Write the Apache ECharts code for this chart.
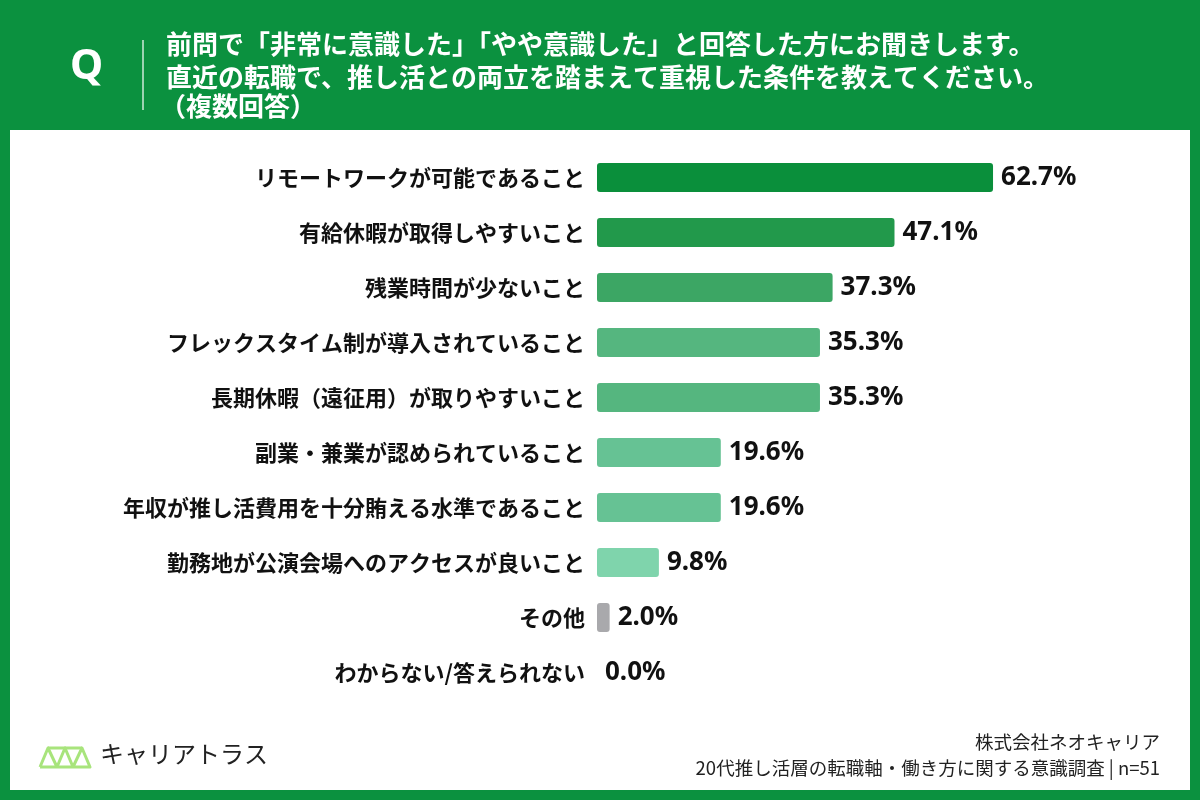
<!DOCTYPE html>
<html>
<head>
<meta charset="utf-8">
<script src="https://cdn.jsdelivr.net/npm/echarts@6/dist/echarts.min.js"></script>
<style>
  html, body { margin: 0; padding: 0; }
  #chart { width: 1200px; height: 800px; }
</style>
</head>
<body>
<div id="chart"></div>
<script>
// 項目（上から順）
const categories = [
    'リモートワークが可能であること',
    '有給休暇が取得しやすいこと',
    '残業時間が少ないこと',
    'フレックスタイム制が導入されていること',
    '長期休暇（遠征用）が取りやすいこと',
    '副業・兼業が認められていること',
    '年収が推し活費用を十分賄える水準であること',
    '勤務地が公演会場へのアクセスが良いこと',
    'その他',
    'わからない/答えられない'
]
const values = [62.7, 47.1, 37.3, 35.3, 35.3, 19.6, 19.6, 9.8, 2.0, 0.0]
const barColors = ['#0a8f3b', '#22994b', '#3ca664', '#55b67f', '#55b67f', '#66c294', '#66c294', '#7fd4ac', '#a9a9ac', '#a9a9ac']

const titleLines = [
    '前問で「非常に意識した」「やや意識した」と回答した方にお聞きします。',
    '直近の転職で、推し活との両立を踏まえて重視した条件を教えてください。',
    '（複数回答）'
]
const sourceLines = ['株式会社ネオキャリア', '20代推し活層の転職軸・働き方に関する意識調査 | n=51']

const FONT = '"Noto Sans CJK JP", "Noto Sans", sans-serif'
const GREEN = '#0b913f'

let chart = echarts.init(document.getElementById('chart'))

let seriesData = values.map((v, i) => {
    return {
        value: v,
        itemStyle: { color: barColors[i] }
    }
})

let option = {
    backgroundColor: GREEN,
    animation: false,
    grid: {
        left: 597,
        top: 150,
        width: 505.3,
        height: 550
    },
    xAxis: {
        type: 'value',
        min: 0,
        max: 80,
        show: false
    },
    yAxis: {
        type: 'category',
        inverse: true,
        data: categories,
        axisLine: { show: false },
        axisTick: { show: false },
        axisLabel: {
            margin: 12,
            fontFamily: FONT,
            fontSize: 22,
            fontWeight: 'bold',
            color: '#111'
        }
    },
    series: [
        {
            type: 'bar',
            barWidth: 29,
            data: seriesData,
            itemStyle: { borderRadius: 3 },
            label: {
                show: true,
                position: 'right',
                distance: 8,
                fontFamily: '"Noto Sans", sans-serif',
                fontSize: 26,
                fontWeight: 'bold',
                color: '#111',
                formatter: p => p.value.toFixed(1) + '%'
            },
            z: 5
        }
    ],
    graphic: [
        {
            type: 'rect',
            z: -10,
            shape: { x: 10, y: 130, width: 1180, height: 660 },
            style: { fill: '#fff' }
        },
        {
            type: 'text',
            left: 70,
            top: 46,
            style: { text: 'Q', fill: '#fff', font: 'bold 42px "Noto Sans", sans-serif' }
        },
        {
            type: 'line',
            shape: { x1: 143, y1: 40, x2: 143, y2: 110 },
            style: { stroke: 'rgba(255,255,255,0.8)', lineWidth: 1.5 }
        },
        {
            type: 'text',
            left: 166,
            top: 31,
            style: { text: titleLines[0], fill: '#fff', font: 'bold 26px ' + FONT }
        },
        {
            type: 'text',
            left: 166,
            top: 64,
            style: { text: titleLines[1], fill: '#fff', font: 'bold 26px ' + FONT }
        },
        {
            type: 'text',
            left: 160,
            top: 93,
            style: { text: titleLines[2], fill: '#fff', font: 'bold 26px ' + FONT }
        },
        {
            type: 'polyline',
            shape: { points: [[40, 767], [48, 748], [57, 767], [65, 748], [73, 767], [82, 748], [90, 767], [40, 767]] },
            style: { stroke: '#a8e47c', lineWidth: 3, fill: null, lineJoin: 'round' }
        },
        {
            type: 'line',
            shape: { x1: 48, y1: 748, x2: 82, y2: 748 },
            style: { stroke: '#a8e47c', lineWidth: 3 }
        },
        {
            type: 'text',
            left: 100,
            top: 742,
            style: { text: 'キャリアトラス', fill: '#222', font: '24px ' + FONT }
        },
        {
            type: 'text',
            right: 40,
            top: 733,
            style: { text: sourceLines[0], fill: '#222', font: '18.5px ' + FONT, textAlign: 'right' }
        },
        {
            type: 'text',
            right: 40,
            top: 759,
            style: { text: sourceLines[1], fill: '#222', font: '18.5px ' + FONT, textAlign: 'right' }
        }
    ]
}

chart.setOption(option)
</script>
</body>
</html>
